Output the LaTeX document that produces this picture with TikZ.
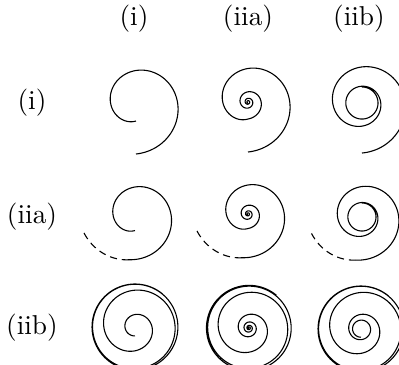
\documentclass[tikz,border=0pt]{standalone}
\begin{document}
\begin{tikzpicture}[
    x=0.366pt, y=0.366pt,
    declare function={
      lgs(\x) = 1/(1+exp(-min(max(\x,-9),9)));
      spl(\x) = ln(1+exp(min(\x,9))) + max(\x-9,0);
    },
    curve/.style={line width=0.4pt, line join=round},
    escape/.style={curve, dash pattern=on 2.6pt off 1.8pt},
    lab/.style={inner sep=0pt}
]
\useasboundingbox (0,0) rectangle (399,-365);
\clip (0,0) rectangle (399,-365);

% headings
\node[lab] (coli)   at (134,-19) {(i)};
\node[lab] (coliia) at (248,-19) {(iia)};
\node[lab] (coliib) at (359,-19) {(iib)};
\node[lab] (rowi)   at (32,-103) {(i)};
\node[lab] (rowiia) at (32,-217) {(iia)};
\node[lab] (rowiib) at (32,-328) {(iib)};

% cell centres
\coordinate (c11) at (136,-104);
\coordinate (c12) at (248,-102);
\coordinate (c13) at (362,-103);
\coordinate (c21) at (135,-216);
\coordinate (c22) at (248,-214);
\coordinate (c23) at (362,-217);
\coordinate (c31) at (135,-327);
\coordinate (c32) at (249,-328);
\coordinate (c33) at (361,-329);

% row (i)
\draw[curve, shift={(c11)}] plot[domain=0:360, samples=120, variable=\s] ({-90-\s}:{17+0.0917*\s});
\draw[curve, shift={(c12)}] plot[domain=-1080:360, samples=500, variable=\s] ({-90-\s}:{\s<0 ? 17*exp(0.00286*\s) : 17+0.0917*\s});
\draw[curve, shift={(c13)}] plot[domain=-540:360, samples=300, variable=\s] ({-90-\s}:{16+4.67*spl((\s+77)/60)});

% row (iia)
\draw[curve, shift={(c21)}] plot[domain=0:368, samples=120, variable=\s] ({-90-\s}:{14.5+0.0806*\s});
\draw[escape, shift={(c21)}] plot[domain=368:432, samples=30, variable=\s] ({-90-\s}:{44.2+0.15*(\s-368)});
\draw[curve, shift={(c22)}] plot[domain=-1080:368, samples=500, variable=\s] ({-90-\s}:{\s<0 ? 14.5*exp(0.00286*\s) : 14.5+0.0806*\s});
\draw[escape, shift={(c22)}] plot[domain=368:432, samples=30, variable=\s] ({-90-\s}:{44.2+0.15*(\s-368)});
\draw[curve, shift={(c23)}] plot[domain=-540:368, samples=300, variable=\s] ({-90-\s}:{14+4.2*spl((\s+54)/60)});
\draw[escape, shift={(c23)}] plot[domain=368:432, samples=30, variable=\s] ({-90-\s}:{43.5+0.15*(\s-368)});

% row (iib)
\draw[curve, shift={(c31)}] plot[domain=0:1300, samples=400, variable=\s] ({-90-\s}:{8+35*lgs((\s-380)/104)});
\draw[curve, shift={(c32)}] plot[domain=-1080:1300, samples=600, variable=\s] ({-90-\s}:{16*lgs(0.00305*\s)+27*lgs((\s-380)/104)});
\draw[curve, shift={(c33)}] plot[domain=-360:1300, samples=450, variable=\s] ({-90-\s}:{8+4*lgs(\s/120)+31*lgs((\s-400)/104)});
\end{tikzpicture}
\end{document}
